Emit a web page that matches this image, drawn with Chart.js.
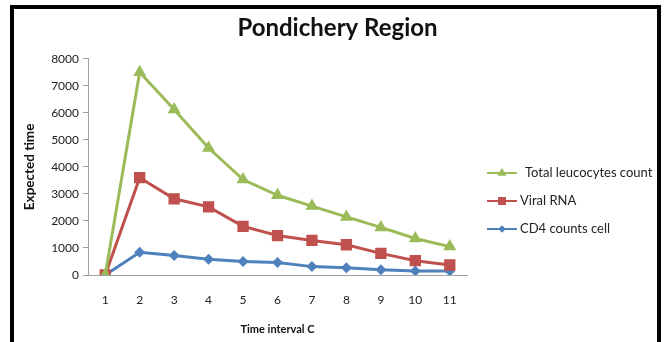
<!DOCTYPE html>
<html><head><meta charset="utf-8">
<script src="https://cdn.jsdelivr.net/npm/chart.js@4"></script>
<style>
html,body{margin:0;padding:0;background:#fff;}
#wrap{position:relative;width:665px;height:342px;overflow:hidden;}
#frame{position:absolute;left:10px;top:5px;width:643px;height:400px;border:4px solid #000;pointer-events:none;}
canvas{position:absolute;left:0;top:0;}
</style></head>
<body><div id="wrap"><canvas id="c" width="665" height="342"></canvas><div id="frame"></div></div>
<script>
const categories = ['1','2','3','4','5','6','7','8','9','10','11'];
const leucocytes = [0, 7500, 6120, 4700, 3530, 2950, 2550, 2150, 1760, 1350, 1050];
const viralRNA   = [0, 3600, 2820, 2520, 1800, 1460, 1280, 1120, 800, 530, 370];
const cd4        = [0, 840, 720, 580, 500, 460, 310, 270, 190, 150, 150];
const yTicks = [0,1000,2000,3000,4000,5000,6000,7000,8000];

const FONT = 'Lato, "Open Sans", sans-serif';

const legendPlugin = {
  id: 'customLegend',
  afterDraw(chart) {
    const ctx = chart.ctx;
    const items = [
      {i:0, y:173, tx:525},
      {i:1, y:201, tx:520},
      {i:2, y:229, tx:520}
    ];
    items.forEach(it => {
      const ds = chart.data.datasets[it.i];
      ctx.save();
      ctx.strokeStyle = ds.borderColor;
      ctx.lineWidth = 2;
      ctx.beginPath(); ctx.moveTo(487, it.y); ctx.lineTo(517, it.y); ctx.stroke();
      ctx.fillStyle = ds.backgroundColor;
      Chart.helpers.drawPoint(ctx, {pointStyle: ds.pointStyle, radius: ds.pointRadius*0.7, borderWidth: 0}, 502, it.y);
      ctx.fillStyle = '#222';
      ctx.font = '13px ' + FONT;
      ctx.textBaseline = 'middle';
      ctx.fillText(ds.label, it.tx, it.y);
      ctx.restore();
    });
  }
};

new Chart(document.getElementById('c'), {
  type: 'line',
  data: {
    labels: categories,
    datasets: [
      {label:'Total leucocytes count', data: leucocytes, borderColor:'#9BBB59', backgroundColor:'#9BBB59', pointStyle:'triangle', pointRadius:7.5, borderWidth:3, pointBorderWidth:0},
      {label:'Viral RNA', data: viralRNA, borderColor:'#C0504D', backgroundColor:'#C0504D', pointStyle:'rect', pointRadius:8, borderWidth:3, pointBorderWidth:0},
      {label:'CD4 counts cell', data: cd4, borderColor:'#4F81BD', backgroundColor:'#4F81BD', pointStyle:'rectRot', pointRadius:5.5, borderWidth:3, pointBorderWidth:0}
    ]
  },
  options: {
    responsive:false, animation:false,
    layout:{padding:{left:10, right:0, top:6, bottom:0}},
    plugins:{
      legend:{display:false},
      tooltip:{enabled:false},
      title:{display:true, text:'Pondichery Region', color:'#111', font:{family:FONT, size:24, weight:'bold'}, padding:{top:8, bottom:16}}
    },
    scales:{
      x:{
        offset:true,
        grid:{display:false, drawTicks:false},
        border:{color:'#a0a0a0', width:1},
        ticks:{color:'#222', font:{family:FONT, size:12}, padding:18, maxRotation:0},
        title:{display:true, text:'Time interval C', color:'#111', font:{family:FONT, size:11, weight:'bold'}, padding:{top:10, bottom:6}},
        afterFit(s){ s.height = 67; }
      },
      y:{
        min:0, max:8000,
        afterBuildTicks(s){ s.ticks = yTicks.map(v=>({value:v})); },
        grid:{drawOnChartArea:false, drawTicks:true, tickLength:5, color:'#a0a0a0'},
        border:{color:'#a0a0a0', width:1},
        ticks:{color:'#222', font:{family:FONT, size:12}, padding:4, callback:v=>String(v)},
        title:{display:true, text:'Expected time', color:'#111', font:{family:FONT, size:13.5, weight:'bold'}, padding:{top:12, bottom:0}},
        afterFit(s){ s.width = 78; }
      },
      yRight:{
        position:'right', display:true, min:0, max:8000,
        grid:{display:false, drawTicks:false}, border:{display:false},
        ticks:{display:false},
        afterFit(s){ s.width = 198; }
      }
    }
  },
  plugins:[legendPlugin]
});
</script></body></html>
